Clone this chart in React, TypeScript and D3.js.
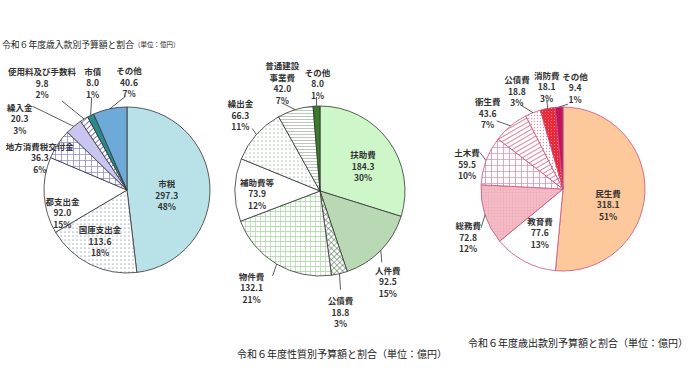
import * as d3 from "d3";

// ---- data (億円) ----
const revenueNames = ["市税", "国庫支出金", "都支出金", "地方消費税交付金", "繰入金", "使用料及び手数料", "市債", "その他"];
const revenueValues = [297.3, 113.6, 92.0, 36.3, 20.3, 9.8, 8.0, 40.6];
const revenuePcts = [48, 18, 15, 6, 3, 2, 1, 7];

const natureNames = ["扶助費", "人件費", "公債費", "物件費", "補助費等", "繰出金", "普通建設\n事業費", "その他"];
const natureValues = [184.3, 92.5, 18.8, 132.1, 73.9, 66.3, 42.0, 8.0];
const naturePcts = [30, 15, 3, 21, 12, 11, 7, 1];

const expenseNames = ["民生費", "教育費", "総務費", "土木費", "衛生費", "公債費", "消防費", "その他"];
const expenseValues = [318.1, 77.6, 72.8, 59.5, 43.6, 18.8, 18.1, 9.4];
const expensePcts = [51, 13, 12, 10, 7, 3, 3, 1];

// ---- styles / label layout ----
const revenueFills = ["#b9e2e8", "url(#dotBlue)", "#ffffff", "url(#gridLav)", "#c9c5f1", "url(#stripeBlue)", "#2a8a8c", "#6eaad8"];
const natureFills = ["#cdf6c9", "#b8d9b3", "url(#diamondGreen)", "url(#gridGreen)", "#ffffff", "url(#dotGreen)", "url(#hstripeGreen)", "#3b7b2c"];
const expenseFills = ["#fcc89c", "#ffffff", "url(#finePink)", "url(#gridPink)", "url(#diagPink)", "url(#dotPink)", "url(#redFire)", "#c0155c"];

// k: radius factor of anchor, d: nudge of text block, lead: leader end (relative to slice edge)
type Lay = { k: number; d: [number, number]; lead?: [number, number] };
const revenueLayout: Lay[] = [
  { k: 0.48, d: [0, 7] },
  { k: 0.68, d: [-2, 0] },
  { k: 0.78, d: [0, 18] },
  { k: 1, d: [-18, 13] },
  { k: 1, d: [-54, -8], lead: [-41, -20] },
  { k: 1, d: [-42, -36], lead: [-22, -18] },
  { k: 1, d: [2, -33], lead: [1, -18] },
  { k: 1, d: [19, -27], lead: [15, -12] },
];
const natureLayout: Lay[] = [
  { k: 0.6, d: [2, 5] },
  { k: 1, d: [7, 31], lead: [1, 12] },
  { k: 1, d: [1, 38], lead: [1, 16] },
  { k: 1, d: [-25, 23], lead: [-4, 12] },
  { k: 0.74, d: [0, 3] },
  { k: 1, d: [-16, -20], lead: [-4, -6] },
  { k: 1, d: [-13, -27], lead: [-14, -7] },
  { k: 1, d: [1, -23], lead: [0, -9] },
];
const expenseLayout: Lay[] = [
  { k: 0.55, d: [0, 13] },
  { k: 0.6, d: [0, 0] },
  { k: 1, d: [-17, 22], lead: [-4, 13] },
  { k: 1, d: [-19, 3], lead: [-6, -8] },
  { k: 1, d: [-23, -13], lead: [-14, -5] },
  { k: 1, d: [-16, -22], lead: [-11, -7] },
  { k: 1, d: [-1, -22], lead: [-1, -9] },
  { k: 1, d: [16, -20], lead: [9, -3] },
];

const FONT = "'Noto Sans CJK JP', 'Noto Sans', sans-serif";
const fmt = d3.format(".1f");

type PieProps = {
  cx: number;
  cy: number;
  r: number;
  names: string[];
  values: number[];
  pcts: number[];
  fills: string[];
  layout: Lay[];
  stroke: string;
  lh: number;
};

function Pie({ cx, cy, r, names, values, pcts, fills, layout, stroke, lh }: PieProps) {
  const arcs = d3.pie<number>().sort(null).value((v) => v)(values);
  const arc = d3.arc<d3.PieArcDatum<number>>().innerRadius(0).outerRadius(r);

  return (
    <g transform={`translate(${cx},${cy})`}>
      {arcs.map((a, i) => (
        <path key={"s" + i} d={arc(a) || ""} fill={fills[i]} stroke={stroke} strokeWidth={0.8} />
      ))}
      {arcs.map((a, i) => {
        const lay = layout[i];
        const edge = d3.arc<d3.PieArcDatum<number>>().innerRadius(r).outerRadius(r).centroid(a);
        const c = d3
          .arc<d3.PieArcDatum<number>>()
          .innerRadius(r * lay.k)
          .outerRadius(r * lay.k)
          .centroid(a);
        const x = c[0] + lay.d[0];
        const y = c[1] + lay.d[1];
        const lines = [...names[i].split("\n"), fmt(values[i]), pcts[i] + "%"];
        const n = lines.length;
        return (
          <g key={"l" + i}>
            {lay.lead && (
              <line
                x1={edge[0]}
                y1={edge[1]}
                x2={edge[0] + lay.lead[0]}
                y2={edge[1] + lay.lead[1]}
                stroke="#333"
                strokeWidth={0.8}
              />
            )}
            {lines.map((t, j) => (
              <text
                key={j}
                x={x}
                y={y + (j - (n - 1) / 2) * lh}
                textAnchor="middle"
                dominantBaseline="central"
                fontSize={8.5}
                fontWeight={600}
                fill="#333"
                fontFamily={FONT}
              >
                {t}
              </text>
            ))}
          </g>
        );
      })}
    </g>
  );
}

export default function App() {
  return (
    <svg
      width={690}
      height={388}
      style={{ position: "absolute", left: 0, top: 0, background: "#fff" }}
      fontFamily={FONT}
    >
      <defs>
        <pattern id="dotBlue" width={4} height={4} patternUnits="userSpaceOnUse">
          <rect width={4} height={4} fill="#fff" />
          <circle cx={2} cy={2} r={0.55} fill="#4b57a0" />
        </pattern>
        <pattern id="gridLav" width={6} height={6} patternUnits="userSpaceOnUse">
          <rect width={6} height={6} fill="#fff" />
          <path d="M0,0H6M0,0V6" stroke="#8f8bd9" strokeWidth={1.6} />
        </pattern>
        <pattern id="stripeBlue" width={4} height={4} patternUnits="userSpaceOnUse" patternTransform="rotate(45)">
          <rect width={4} height={4} fill="#fff" />
          <path d="M0,0V4" stroke="#5a5aa8" strokeWidth={1.6} />
        </pattern>
        <pattern id="diamondGreen" width={4} height={4} patternUnits="userSpaceOnUse" patternTransform="rotate(45)">
          <rect width={4} height={4} fill="#fff" />
          <path d="M0,0H4M0,0V4" stroke="#3f6b3f" strokeWidth={1} />
        </pattern>
        <pattern id="gridGreen" width={5} height={5} patternUnits="userSpaceOnUse">
          <rect width={5} height={5} fill="#fff" />
          <path d="M0,0H5M0,0V5" stroke="#a6d49e" strokeWidth={1.3} />
        </pattern>
        <pattern id="dotGreen" width={4} height={4} patternUnits="userSpaceOnUse">
          <rect width={4} height={4} fill="#fff" />
          <circle cx={2} cy={2} r={0.6} fill="#5a8a5a" />
        </pattern>
        <pattern id="hstripeGreen" width={4} height={3} patternUnits="userSpaceOnUse">
          <rect width={4} height={3} fill="#fff" />
          <path d="M0,0H4" stroke="#7f9e7f" strokeWidth={1.1} />
        </pattern>
        <pattern id="finePink" width={3} height={3} patternUnits="userSpaceOnUse">
          <rect width={3} height={3} fill="#f3bcc6" />
          <path d="M0,0H3M0,0V3" stroke="#e9a2b2" strokeWidth={0.6} />
        </pattern>
        <pattern id="gridPink" width={6} height={6} patternUnits="userSpaceOnUse">
          <rect width={6} height={6} fill="#fff" />
          <path d="M0,0H6M0,0V6" stroke="#ea8ea6" strokeWidth={1.6} />
        </pattern>
        <pattern id="diagPink" width={4} height={4} patternUnits="userSpaceOnUse" patternTransform="rotate(-30)">
          <rect width={4} height={4} fill="#fff" />
          <path d="M0,0H4" stroke="#e0637f" strokeWidth={1.6} />
        </pattern>
        <pattern id="dotPink" width={3} height={3} patternUnits="userSpaceOnUse">
          <rect width={3} height={3} fill="#fff" />
          <circle cx={1.5} cy={1.5} r={0.7} fill="#ec8fa8" />
        </pattern>
        <pattern id="redFire" width={3} height={3} patternUnits="userSpaceOnUse">
          <rect width={3} height={3} fill="#e82a3a" />
          <rect x={0} y={0} width={1} height={1} fill="#f4808a" />
        </pattern>
      </defs>

      <text x={2} y={44} fontSize={8.8} fill="#222" dominantBaseline="central">
        令和６年度歳入款別予算額と割合
        <tspan fontSize={6.5}>（単位：億円）</tspan>
      </text>
      <text x={237} y={353} fontSize={10} fill="#222" dominantBaseline="central">
        令和６年度性質別予算額と割合（単位：億円）
      </text>
      <text x={468} y={342} fontSize={10} fill="#222" dominantBaseline="central">
        令和６年度歳出款別予算額と割合（単位：億円）
      </text>

      <Pie
        cx={127}
        cy={190}
        r={83}
        names={revenueNames}
        values={revenueValues}
        pcts={revenuePcts}
        fills={revenueFills}
        layout={revenueLayout}
        stroke="#333"
        lh={11.5}
      />
      <Pie
        cx={320}
        cy={191}
        r={85}
        names={natureNames}
        values={natureValues}
        pcts={naturePcts}
        fills={natureFills}
        layout={natureLayout}
        stroke="#333"
        lh={11.5}
      />
      <Pie
        cx={563}
        cy={189}
        r={82}
        names={expenseNames}
        values={expenseValues}
        pcts={expensePcts}
        fills={expenseFills}
        layout={expenseLayout}
        stroke="#c9507f"
        lh={11.5}
      />
    </svg>
  );
}
